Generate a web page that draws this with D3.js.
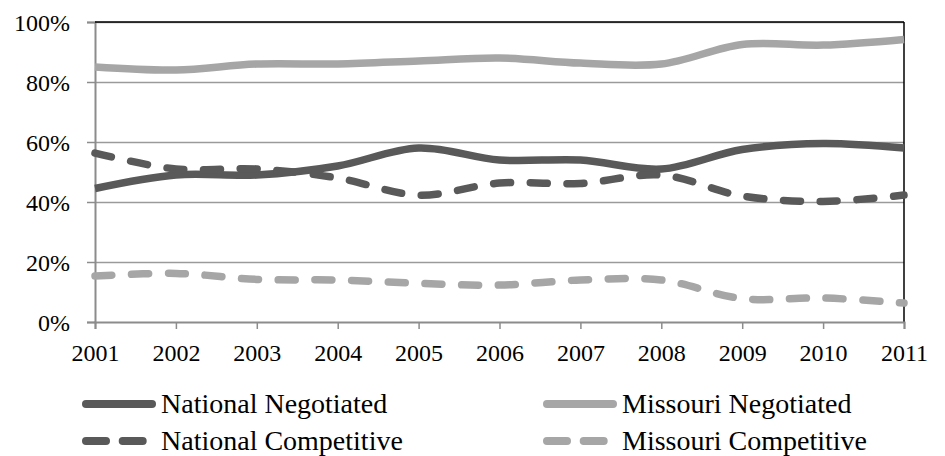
<!DOCTYPE html>
<html>
<head>
<meta charset="utf-8">
<script src="https://cdn.jsdelivr.net/npm/d3@7"></script>
</head>
<body style="margin:0">
<script>
// Years on the x axis
const years = [2001, 2002, 2003, 2004, 2005, 2006, 2007, 2008, 2009, 2010, 2011];
const yTicks = [0, 20, 40, 60, 80, 100];

// Series values in percent
const nationalNegotiated = [44.5, 49, 49, 52, 58, 54, 54, 51, 57.5, 59.5, 58];
const missouriNegotiated = [85, 84, 86, 86, 87, 88, 86.3, 86, 92.5, 92.3, 94.2];
const nationalCompetitive = [56.3, 51, 51, 48, 42.3, 46.3, 46.2, 49, 42, 40.2, 42.3];
const missouriCompetitive = [15.3, 16.2, 14.2, 14, 12.9, 12.3, 14, 14, 7.8, 8, 6.3];

const seriesNames = ['National Negotiated', 'Missouri Negotiated', 'National Competitive', 'Missouri Competitive'];

const W = 945, H = 456;
const margin = { left: 95, right: 41, top: 22, bottom: 134 };
const width = W - margin.left - margin.right;
const height = H - margin.top - margin.bottom;
const serif = 'Liberation Serif';

const svg = d3.select('body').append('svg')
    .attr('width', W).attr('height', H)
    .attr('font-family', serif);

const g = svg.append('g').attr('transform', `translate(${margin.left},${margin.top})`);

const x = d3.scaleLinear().domain([2001, 2011]).range([0, width]);
const y = d3.scaleLinear().domain([0, 100]).range([height, 0]);

// d3 axes put font-family="sans-serif" on their group; drop it so the serif face is inherited
const clean = a => a.attr('font-family', null).attr('font-size', null);

// Gridlines
g.append('g')
    .call(d3.axisLeft(y).tickValues(yTicks.slice(1)).tickSize(-width).tickFormat(''))
    .call(clean)
    .call(a => a.select('.domain').remove())
    .call(a => a.selectAll('text').remove())
    .selectAll('line').attr('stroke', '#9a9a9a').attr('stroke-width', 1.5);

// Left axis
g.append('g')
    .call(d3.axisLeft(y).tickValues(yTicks).tickSize(8).tickFormat(d => d + '%'))
    .call(clean)
    .call(a => a.select('.domain').attr('stroke', '#8c8c8c').attr('stroke-width', 2))
    .call(a => a.selectAll('line').attr('stroke', '#8c8c8c').attr('stroke-width', 1.5))
    .call(a => a.selectAll('text').attr('x', -25).attr('dy', '0.35em').attr('fill', '#000')
        .attr('font-family', serif).attr('font-size', 24));

// Plot border (top and right in black)
g.append('line').attr('x1', 0).attr('x2', width).attr('y1', 0).attr('y2', 0)
    .attr('stroke', '#000').attr('stroke-width', 1.5);
g.append('line').attr('x1', width).attr('x2', width).attr('y1', 0).attr('y2', height)
    .attr('stroke', '#000').attr('stroke-width', 1.5);

// Bottom axis
g.append('g')
    .attr('transform', `translate(0,${height})`)
    .call(d3.axisBottom(x).tickValues(years).tickSize(7).tickFormat(d3.format('d')))
    .call(clean)
    .call(a => a.select('.domain').attr('stroke', '#8c8c8c').attr('stroke-width', 2))
    .call(a => a.selectAll('line').attr('stroke', '#8c8c8c').attr('stroke-width', 1.5))
    .call(a => a.selectAll('text').attr('y', 22).attr('dy', '0.71em').attr('fill', '#000')
        .attr('font-family', serif).attr('font-size', 24));

const styles = [
    { color: '#595959', dash: null },
    { color: '#a6a6a6', dash: null },
    { color: '#595959', dash: '17,19.7' },
    { color: '#a6a6a6', dash: '17,19.7' }
];
const data = [nationalNegotiated, missouriNegotiated, nationalCompetitive, missouriCompetitive];

const line = d3.line()
    .x((d, i) => x(years[i]))
    .y(d => y(d))
    .curve(d3.curveCatmullRom.alpha(0.5));

data.forEach((vals, i) => {
    const s = styles[i];
    g.append('path').datum(vals)
        .attr('d', line)
        .attr('fill', 'none')
        .attr('stroke', s.color)
        .attr('stroke-width', 7.5)
        .attr('stroke-linecap', s.dash ? 'round' : 'butt')
        .attr('stroke-dasharray', s.dash);
});

// Legend
const legendPos = [
    { x: 82, y: 404 }, { x: 543, y: 404 },
    { x: 82, y: 441 }, { x: 543, y: 441 }
];
seriesNames.forEach((name, i) => {
    const s = styles[i];
    const p = legendPos[i];
    svg.append('line')
        .attr('x1', p.x + 4).attr('x2', p.x + 70)
        .attr('y1', p.y).attr('y2', p.y)
        .attr('stroke', s.color).attr('stroke-width', 8)
        .attr('stroke-linecap', 'round')
        .attr('stroke-dasharray', s.dash ? '20,16.7' : null);
    svg.append('text')
        .attr('x', p.x + 79).attr('y', p.y + 9)
        .attr('font-family', serif)
        .attr('font-size', 28)
        .attr('fill', '#000')
        .text(name);
});
</script>
</body>
</html>
